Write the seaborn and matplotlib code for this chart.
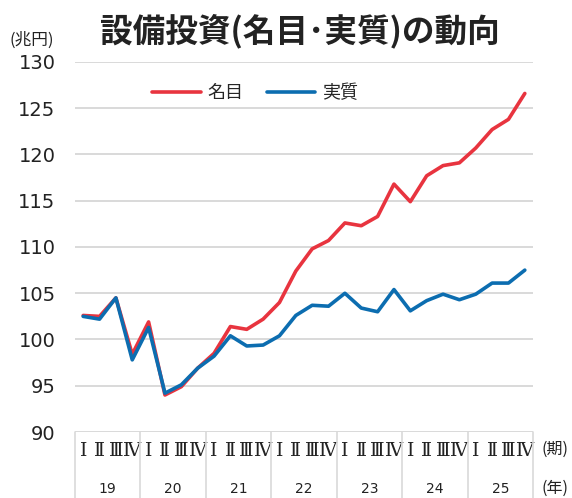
import matplotlib
matplotlib.use("Agg")
import matplotlib.pyplot as plt
import seaborn as sns
import pandas as pd
from matplotlib.lines import Line2D

years = ["19", "20", "21", "22", "23", "24", "25"]
quarters = ["Ⅰ", "Ⅱ", "Ⅲ", "Ⅳ"]
series_names = ["名目", "実質"]
nominal = [102.6, 102.5, 104.5, 98.4, 101.9, 94.0, 94.9, 96.9,
           98.5, 101.4, 101.1, 102.2, 104.0, 107.4, 109.8, 110.7,
           112.6, 112.3, 113.3, 116.8, 114.9, 117.7, 118.8, 119.1,
           120.7, 122.7, 123.8, 126.6]
real = [102.5, 102.2, 104.5, 97.8, 101.3, 94.2, 95.1, 96.9,
        98.2, 100.4, 99.3, 99.4, 100.4, 102.6, 103.7, 103.6,
        105.0, 103.4, 103.0, 105.4, 103.1, 104.2, 104.9, 104.3,
        104.9, 106.1, 106.1, 107.5]
yticks = [90, 95, 100, 105, 110, 115, 120, 125, 130]

colors = {"名目": "#E8343F", "実質": "#0C6DB0"}

sns.set_theme(style="white")
plt.rcParams["font.family"] = ["DejaVu Sans", "Noto Sans CJK JP"]

n = len(nominal)
idx = list(range(n))
df = pd.DataFrame({
    "t": idx * 2,
    "value": nominal + real,
    "series": [series_names[0]] * n + [series_names[1]] * n,
})

fig = plt.figure(figsize=(5.72, 4.98), dpi=100)
ax = fig.add_axes([75 / 572, 1 - 432 / 498, 458 / 572, 370 / 498])

sns.lineplot(data=df, x="t", y="value", hue="series", palette=colors,
             linewidth=2.6, ax=ax, legend=False, zorder=3)

ax.set_xlim(-0.5, n - 0.5)
ax.set_ylim(90, 130)
ax.set_yticks(yticks)
ax.set_yticklabels([str(v) for v in yticks], fontsize=14, color="#222222")
ax.tick_params(axis="y", length=0, pad=14)
for v in yticks:
    ax.axhline(v, color="#D9D9D9", linewidth=1.4, zorder=1)
for s in ax.spines.values():
    s.set_visible(False)

ax.set_xticks(idx)
ax.set_xticklabels([quarters[i % 4] for i in idx], fontsize=13.5,
                   family=["DejaVu Serif", "Noto Sans CJK JP"], color="#222222")
ax.tick_params(axis="x", length=0, pad=7)
ax.set_xlabel("")
ax.set_ylabel("")

# year separators
for k in range(len(years) + 1):
    xb = k * 4 - 0.5
    ax.plot([xb, xb], [0, -0.2], transform=ax.get_xaxis_transform(),
            color="#D9D9D9", linewidth=1.2, clip_on=False)
for k, y in enumerate(years):
    ax.text(k * 4 + 1.5, -0.153, y, transform=ax.get_xaxis_transform(),
            ha="center", va="center", fontsize=10, color="#222222")

fig.text(555 / 572, 1 - 449 / 498, "(期)", ha="center", va="center",
         fontsize=11.5, family=["Noto Sans CJK JP"], color="#222222")
fig.text(555 / 572, 1 - 488 / 498, "(年)", ha="center", va="center",
         fontsize=11.5, family=["Noto Sans CJK JP"], color="#222222")

fig.text(32 / 572, 1 - 40 / 498, "(兆円)", ha="center", va="center",
         fontsize=12, family=["Noto Sans CJK JP"], color="#222222")
fig.text(300 / 572, 1 - 31 / 498, "設備投資(名目･実質)の動向", ha="center",
         va="center", fontsize=23.5, fontweight="bold",
         family=["Noto Sans CJK JP"], color="#222222")

handles = [Line2D([0], [0], color=colors[s], linewidth=2.6) for s in series_names]
ax.legend(handles, series_names, loc="center", bbox_to_anchor=(0.393, 0.916),
          ncol=2, frameon=False, handlelength=2.7, handletextpad=0.35,
          columnspacing=1.3, prop={"family": "Noto Sans CJK JP", "size": 13})

fig.savefig("out.png", dpi=100)
